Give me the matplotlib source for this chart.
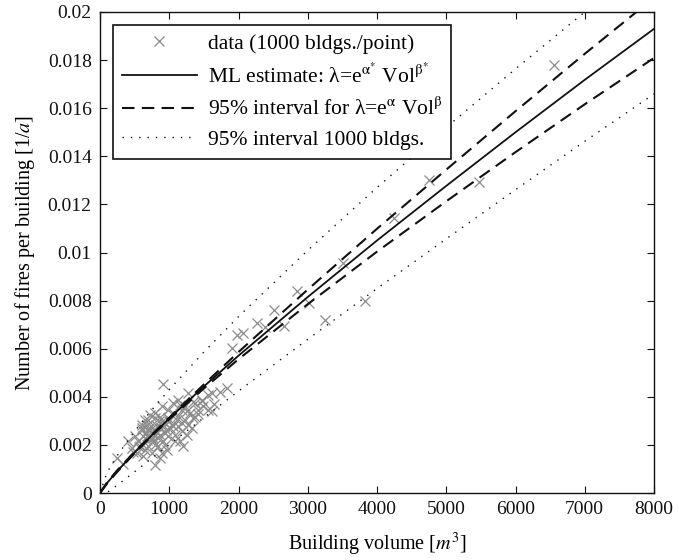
import matplotlib
matplotlib.use("Agg")
import matplotlib.pyplot as plt
from matplotlib.ticker import FormatStrFormatter
from matplotlib.lines import Line2D

plt.rcParams['font.family'] = ['Liberation Serif', 'DejaVu Serif']
plt.rcParams['mathtext.fontset'] = 'stix'

# ---- data points (1000 bldgs./point) ----
data_vol = [913, 793, 240, 409, 1611, 1827, 1731, 1563, 1274, 1370, 1466, 1322, 1202,
            721, 553, 625, 962, 889, 1082, 1178, 986, 1058, 1130, 1226, 673, 649, 697,
            769, 841, 938, 1034, 1106, 817, 889, 601, 745, 793, 865, 529, 577, 745, 841,
            913, 986, 1010, 1130, 1226, 1298, 1418, 1490, 1370, 673, 721, 649, 601, 505,
            457, 625, 865, 938, 1082, 1154, 1250, 1274, 1058, 1178, 938, 793, 889, 697,
            1614, 1469, 1349, 1566, 1156, 1903, 1975, 2071, 2274, 2384, 2514, 2664, 2842,
            3025, 3251, 3516, 3820, 4245, 4745, 5470, 6551,
            700, 760, 820, 880, 950, 1000, 1050, 620, 680, 740, 800, 860, 920, 980,
            560, 610, 670, 730, 790, 850, 1120, 1190, 1260, 1340, 1420, 330, 480, 1650]
data_rate = [0.00454, 0.00118, 0.00145, 0.00215, 0.00339, 0.00436, 0.00422, 0.00408,
             0.00415, 0.00374, 0.00381, 0.00270, 0.00194, 0.00325, 0.00215, 0.00235,
             0.00180, 0.00166, 0.00215, 0.00256, 0.00346, 0.00374, 0.00388, 0.00360,
             0.00284, 0.00180, 0.00194, 0.00215, 0.00228, 0.00249, 0.00284, 0.00304,
             0.00277, 0.00298, 0.00263, 0.00249, 0.00311, 0.00318, 0.00166, 0.00194,
             0.00166, 0.00194, 0.00215, 0.00235, 0.00270, 0.00277, 0.00304, 0.00332,
             0.00346, 0.00360, 0.00318, 0.00235, 0.00263, 0.00304, 0.00284, 0.00235,
             0.00187, 0.00152, 0.00145, 0.00201, 0.00242, 0.00215, 0.00242, 0.00284,
             0.00332, 0.00346, 0.00291, 0.00332, 0.00360, 0.00304,
             0.00415, 0.00387, 0.00380, 0.00345, 0.00366, 0.00602, 0.00658, 0.00665,
             0.00707, 0.00690, 0.00762, 0.00693, 0.00838, 0.00790, 0.00720, 0.00956,
             0.00800, 0.01145, 0.01300, 0.01295, 0.01780,
             0.00260, 0.00230, 0.00250, 0.00270, 0.00260, 0.00300, 0.00280, 0.00200,
             0.00220, 0.00280, 0.00200, 0.00240, 0.00280, 0.00310, 0.00190, 0.00270,
             0.00250, 0.00230, 0.00260, 0.00300, 0.00320, 0.00290, 0.00340, 0.00310,
             0.00330, 0.00120, 0.00170, 0.00370]

# ---- curves ----
curve_vol = [0, 100, 250, 500, 750, 1000, 1500, 2000, 3000, 4000, 5000, 6000, 7000, 8000]
ml_rate = [0, 0.000409, 0.000915, 0.001684, 0.002407, 0.003099, 0.00443, 0.00571,
           0.00815, 0.01050, 0.01277, 0.01500, 0.01718, 0.0193]
ci_upper = [0, 0.000435, 0.000949, 0.001715, 0.002433, 0.003133, 0.004515, 0.005862,
            0.008460, 0.010987, 0.013445, 0.015875, 0.018261, 0.020592]
ci_lower = [0, 0.000384, 0.000882, 0.001653, 0.002381, 0.003065, 0.004347, 0.005562,
            0.007852, 0.010035, 0.012129, 0.014173, 0.016163, 0.018089]
pi_upper = [0, 0.000844, 0.001565, 0.002566, 0.003462, 0.004296, 0.005861, 0.007335,
            0.010091, 0.012703, 0.015200, 0.017633, 0.019998, 0.022287]
pi_lower = [0, 0.000015, 0.000325, 0.000884, 0.001450, 0.002013, 0.003132, 0.004237,
            0.006390, 0.008502, 0.010566, 0.012612, 0.014624, 0.016591]

x_ticks = [0, 1000, 2000, 3000, 4000, 5000, 6000, 7000, 8000]
y_ticks = [0, 0.002, 0.004, 0.006, 0.008, 0.01, 0.012, 0.014, 0.016, 0.018, 0.02]

fig = plt.figure(figsize=(6.79, 5.60), dpi=100)
ax = fig.add_axes([100/679, (560-493)/560, 554/679, 481/560])

grey = '#8c8c8c'
ax.plot(data_vol, data_rate, linestyle='none', marker='x', ms=6.5, mew=0.9, color=grey)
ax.plot(curve_vol, ml_rate, '-', color='#111111', lw=1.3)
ax.plot(curve_vol, ci_upper, color='#111111', lw=1.5, linestyle=(0, (6, 3.5)))
ax.plot(curve_vol, ci_lower, color='#111111', lw=1.5, linestyle=(0, (6, 3.5)))
ax.plot(curve_vol, pi_upper, color='#111111', lw=1.0, linestyle=(0, (1, 5)))
ax.plot(curve_vol, pi_lower, color='#111111', lw=1.0, linestyle=(0, (1, 5)))

ax.set_xlim(0, 8000)
ax.set_ylim(0, 0.02)
ax.set_xticks(x_ticks)
ax.set_yticks(y_ticks)
ax.yaxis.set_major_formatter(FormatStrFormatter('%g'))
ax.tick_params(direction='in', top=True, right=True, length=5, width=0.8,
               labelsize=14, colors='#111111', pad=6)
for s in ax.spines.values():
    s.set_linewidth(1.0)
    s.set_color('#111111')

ax.set_xlabel(r'Building volume [$m^3$]', fontsize=14.5, labelpad=9)
ax.set_ylabel(r'Number of fires per building [1/$a$]', fontsize=14.5, labelpad=8)

handles = [
    Line2D([], [], linestyle='none', marker='x', ms=6.5, mew=0.9, color=grey),
    Line2D([], [], color='#111111', lw=1.3),
    Line2D([], [], color='#111111', lw=1.5, linestyle=(0, (6, 3.5))),
    Line2D([], [], color='#111111', lw=1.0, linestyle=(0, (1, 5))),
]
labels = [
    'data (1000 bldgs./point)',
    r'ML estimate: λ=e$^{\mathrm{α}^{*}}$ Vol$^{\mathrm{β}^{*}}$',
    r'95% interval for λ=e$^{\mathrm{α}}$ Vol$^{\mathrm{β}}$',
    '95% interval 1000 bldgs.',
]
leg = ax.legend(handles, labels, loc='upper left', fontsize=15.5, handlelength=3.5,
                frameon=True, fancybox=False, edgecolor='#111111', framealpha=1,
                borderaxespad=0.6, labelspacing=0.45, handletextpad=0.5,
                borderpad=0.4)
leg.get_frame().set_linewidth(1.2)

fig.savefig('out.png', dpi=100)
